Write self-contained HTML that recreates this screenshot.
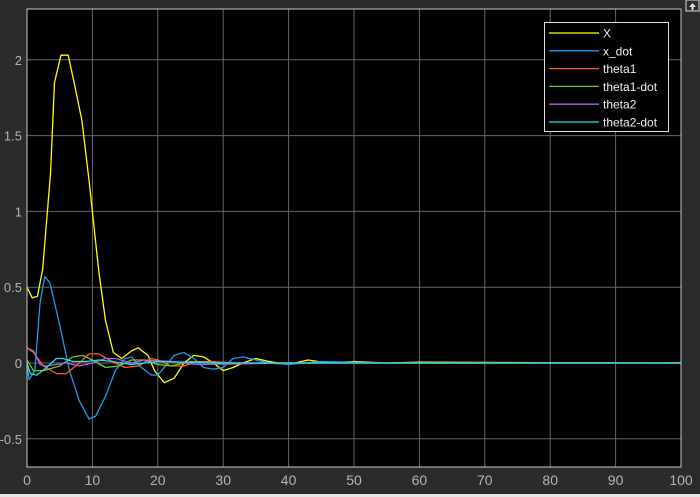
<!DOCTYPE html>
<html><head><meta charset="utf-8"><style>
html,body{margin:0;padding:0;background:#2b2b2b;width:700px;height:497px;overflow:hidden}
svg{display:block;font-family:"Liberation Sans",sans-serif}
</style></head><body>
<svg id="c" width="700" height="497">
<rect x="0" y="494" width="700" height="3" fill="#e6e6e6"/>
<g><rect x="686" y="0" width="13" height="11" fill="#2b2b2b" stroke="#ddd"/><path d="M689 7 L692.5 3 L696 7 Z M691.5 7 h2 v3 h-2z" fill="#ddd"/></g>
</svg>
<script>
const xTicks=[0,10,20,30,40,50,60,70,80,90,100];
const yTicks=[-0.5,0,0.5,1,1.5,2];
const yTickLabels=["-0.5","0","0.5","1","1.5","2"];
const seriesNames=["X","x_dot","theta1","theta1-dot","theta2","theta2-dot"];
const seriesColors=["#ffff00","#1a9cf0","#ff5a1e","#6cc820","#b45cf0","#20e0e8"];
const tX=[0,0.8,1.6,2.4,3.6,4.2,5.2,6.3,7.2,8.4,9.5,11,12,13.2,14.5,16,17,18.5,19.5,21,22.5,24,25.5,27,28.5,30,31.5,33,35,37,40,43,46,50,55,60,100];
const vX=[0.5,0.43,0.44,0.62,1.25,1.85,2.03,2.03,1.85,1.6,1.2,0.6,0.28,0.07,0.03,0.08,0.1,0.05,-0.05,-0.13,-0.1,0,0.05,0.04,0,-0.05,-0.03,0,0.03,0.01,-0.01,0.02,0,0.01,0,0.005,0];
const tXd=[0,0.3,1.2,2,2.7,3.5,5,6.5,8,9.5,10.5,12,13.5,15,16,17.5,19,20,22.5,24,25.5,27,28.5,30,31.5,33,35,37,40,45,55,100];
const vXd=[0,-0.11,-0.05,0.4,0.57,0.53,0.25,-0.05,-0.25,-0.37,-0.35,-0.22,-0.05,0.03,0.04,-0.03,-0.08,-0.08,0.05,0.07,0.03,-0.03,-0.04,-0.03,0.03,0.04,0.02,0,-0.01,0.01,0,0];
const tT1=[0,1,2.5,4.5,6,8,9.5,11,13,15,17,19,20,22,24,26,28,32,100];
const vT1=[0.1,0.07,-0.02,-0.07,-0.07,0,0.06,0.06,0.01,-0.03,-0.02,0.03,0.02,-0.02,-0.02,0.01,0.01,0,0];
const tT1d=[0,1,2.5,5,7,8.5,10,12,14,16,18,20,22,25,30,100];
const vT1d=[0.02,-0.05,-0.05,-0.02,0.04,0.05,0.02,-0.03,-0.02,0.02,0.02,-0.01,-0.02,0.01,0,0];
const tT2=[0,1,2,3,6,8,10,12,13.5,16,18,22,26,40,100];
const vT2=[0.1,0.08,-0.01,-0.02,0,-0.02,0,0.03,0.03,0,0.02,0.01,-0.01,0,0];
const tT2d=[0,0.5,1.5,3,4.5,5.5,7,9,11,13,16,20,30,100];
const vT2d=[0,-0.07,-0.08,-0.03,0.03,0.03,0.01,0.01,0.02,0.01,-0.01,0.01,0,0];
const seriesT=[tX,tXd,tT1,tT1d,tT2,tT2d];
const seriesV=[vX,vXd,vT1,vT1d,vT2,vT2d];
const L=27,R=681,T=9,B=467,xMin=0,xMax=100,yMin=-0.686,yMax=2.335;
const sx=v=>L+(v-xMin)/(xMax-xMin)*(R-L);
const sy=v=>B-(v-yMin)/(yMax-yMin)*(B-T);
const NS="http://www.w3.org/2000/svg",svg=document.getElementById('c');
function mk(tag,at,parent){const e=document.createElementNS(NS,tag);for(const k in at)e.setAttribute(k,at[k]);(parent||svg).appendChild(e);return e;}
const bg=mk('rect',{x:L,y:T,width:R-L,height:B-T,fill:'#000'});


xTicks.forEach(v=>{
 const g=mk('line',{x1:sx(v),x2:sx(v),y1:T,y2:B,stroke:'#666','stroke-width':1});
 
 
 const t=mk('text',{x:sx(v),y:485,fill:'#b4b4b4','font-size':14,'text-anchor':'middle'});
 t.textContent=v;
 
 
});
yTicks.forEach((v,i)=>{
 const g=mk('line',{x1:L,x2:R,y1:sy(v),y2:sy(v),stroke:'#666','stroke-width':1});
 
 
 const t=mk('text',{x:22,y:sy(v)+5,fill:'#b4b4b4','font-size':13,'text-anchor':'end'});
 t.textContent=yTickLabels[i];
 
 
});
seriesT.forEach((ts,i)=>{
 const d=ts.map((t,j)=>(j?'L':'M')+sx(t).toFixed(1)+' '+sy(seriesV[i][j]).toFixed(1)).join(' ');
 const p=mk('path',{d:d,fill:'none',stroke:seriesColors[i],'stroke-width':1.3,'stroke-linejoin':'round'});
 
 
});
const fr=mk('rect',{x:L,y:T,width:R-L,height:B-T,fill:'none',stroke:'#c8c8c8','stroke-width':1});


const lg=mk('g',{});


mk('rect',{x:544.5,y:22.5,width:124,height:109,fill:'#000',stroke:'#e0e0e0','stroke-width':1},lg);
seriesNames.forEach((n,i)=>{
 const y=33+i*17.8;
 const l=mk('line',{x1:549,x2:599,y1:y,y2:y,stroke:seriesColors[i],'stroke-width':1.3},lg);
 
 
 const t=mk('text',{x:603,y:y+4.5,fill:'#f0f0f0','font-size':12},lg);
 t.textContent=n;
 
 
});
</script>
</body></html>
